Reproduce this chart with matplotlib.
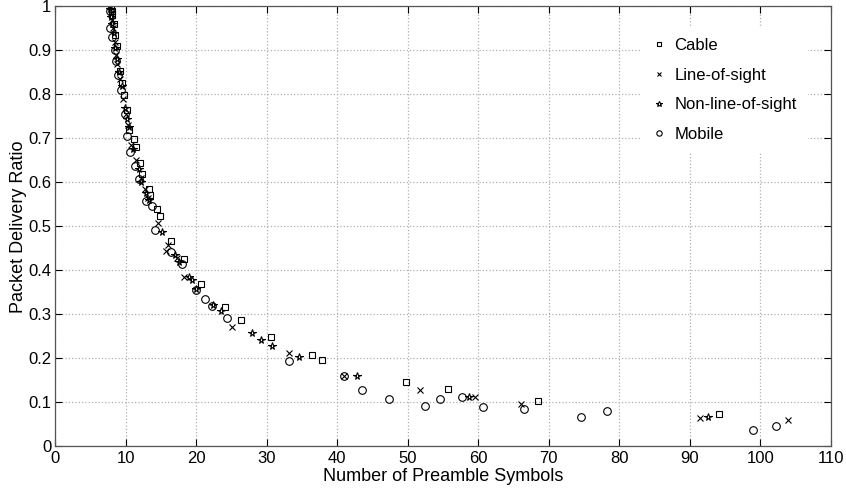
import matplotlib
matplotlib.use("Agg")
import matplotlib.pyplot as plt
import numpy as np

plt.rcParams['font.family'] = ['Liberation Sans', 'DejaVu Sans']

# Cable
cable_x = [7.9, 8.0, 8.1, 8.3, 8.5, 8.7, 9.2, 9.5, 9.8, 10.1, 10.5, 11.1, 11.4, 12.0, 12.3,
           13.3, 13.5, 14.4, 14.9, 16.4, 18.2, 20.7, 24.0, 26.3, 30.6, 36.4, 37.8, 49.8,
           55.7, 68.4, 94.1]
cable_y = [1.0, 0.99, 0.98, 0.96, 0.935, 0.91, 0.853, 0.825, 0.798, 0.765, 0.72, 0.699, 0.68,
           0.644, 0.62, 0.586, 0.572, 0.540, 0.523, 0.468, 0.426, 0.370, 0.318, 0.288, 0.248,
           0.207, 0.197, 0.147, 0.131, 0.104, 0.074]

# Line-of-sight
los_x = [7.8, 7.9, 8.0, 8.2, 8.4, 8.6, 8.8, 9.2, 9.6, 10.0, 10.3, 10.8, 11.5, 12.1, 12.7,
         13.1, 14.6, 15.7, 16.0, 17.3, 18.3, 25.0, 33.2, 41.0, 51.8, 59.5, 66.1, 91.4, 104.0]
los_y = [1.0, 0.985, 0.97, 0.95, 0.92, 0.89, 0.87, 0.835, 0.79, 0.755, 0.73, 0.685, 0.652,
         0.61, 0.585, 0.565, 0.508, 0.445, 0.458, 0.428, 0.385, 0.271, 0.213, 0.160, 0.129,
         0.112, 0.097, 0.064, 0.060]

# Non-line-of-sight
nlos_x = [7.8, 7.95, 8.1, 8.3, 8.5, 8.7, 9.0, 9.4, 9.9, 10.2, 10.4, 11.0, 11.8, 12.2, 12.9,
          13.3, 15.2, 17.0, 17.6, 19.0, 19.4, 20.0, 22.3, 23.5, 27.9, 29.2, 30.8, 34.5, 42.8,
          58.7, 92.6]
nlos_y = [0.995, 0.975, 0.96, 0.94, 0.905, 0.88, 0.85, 0.82, 0.77, 0.745, 0.725, 0.675, 0.63,
          0.602, 0.575, 0.56, 0.487, 0.436, 0.42, 0.386, 0.379, 0.357, 0.322, 0.307, 0.258,
          0.242, 0.229, 0.203, 0.161, 0.113, 0.066]

# Mobile
mob_x = [7.7, 7.8, 8.0, 8.4, 8.6, 8.9, 9.3, 9.9, 10.1, 10.6, 11.3, 11.8, 12.9, 13.7, 14.2,
         16.4, 17.9, 20.0, 21.2, 22.2, 24.3, 33.2, 41.0, 43.5, 47.4, 52.5, 54.5, 57.7, 60.6,
         66.5, 74.5, 78.2, 99.0, 102.3]
mob_y = [0.99, 0.951, 0.93, 0.90, 0.875, 0.845, 0.81, 0.755, 0.706, 0.67, 0.637, 0.608, 0.559,
         0.546, 0.491, 0.442, 0.415, 0.355, 0.336, 0.320, 0.292, 0.195, 0.160, 0.128, 0.109,
         0.091, 0.107, 0.112, 0.089, 0.086, 0.066, 0.081, 0.038, 0.047]

fig = plt.figure(figsize=(8.46, 4.94), dpi=100)
ax = fig.add_axes([0.0654, 0.0962, 0.9166, 0.8907])

ax.plot(cable_x, cable_y, 's', ms=5, mfc='none', mec='k', mew=0.8, label='Cable')
ax.plot(los_x, los_y, 'x', ms=4.5, mec='k', mew=0.8, label='Line-of-sight')
ax.plot(nlos_x, nlos_y, '*', ms=5.5, mfc='none', mec='k', mew=0.8, label='Non-line-of-sight')
ax.plot(mob_x, mob_y, 'o', ms=5.5, mfc='none', mec='k', mew=0.8, label='Mobile')

ax.set_xlim(0, 110)
ax.set_ylim(0, 1)
ax.set_xticks(np.arange(0, 111, 10))
ax.set_yticks(np.arange(0, 1.01, 0.1))
ax.set_yticklabels(['0', '0.1', '0.2', '0.3', '0.4', '0.5', '0.6', '0.7', '0.8', '0.9', '1'])

ax.grid(True, linestyle=':', color='#b0b0b0', linewidth=0.9)
ax.tick_params(direction='in', top=True, right=True, length=5, labelsize=12, pad=3)
for s in ax.spines.values():
    s.set_color('#555555')
    s.set_linewidth(0.9)

ax.set_xlabel('Number of Preamble Symbols', fontsize=13, labelpad=2)
ax.set_ylabel('Packet Delivery Ratio', fontsize=13, labelpad=1)

leg = ax.legend(loc='upper right', bbox_to_anchor=(0.969, 0.951), borderaxespad=0,
                frameon=True, fancybox=False, framealpha=1, facecolor='white',
                edgecolor='white', fontsize=12, labelspacing=0.88, handlelength=0.9,
                handletextpad=0.5, borderpad=0.6, markerscale=0.7)

fig.savefig('out.png', dpi=100)
